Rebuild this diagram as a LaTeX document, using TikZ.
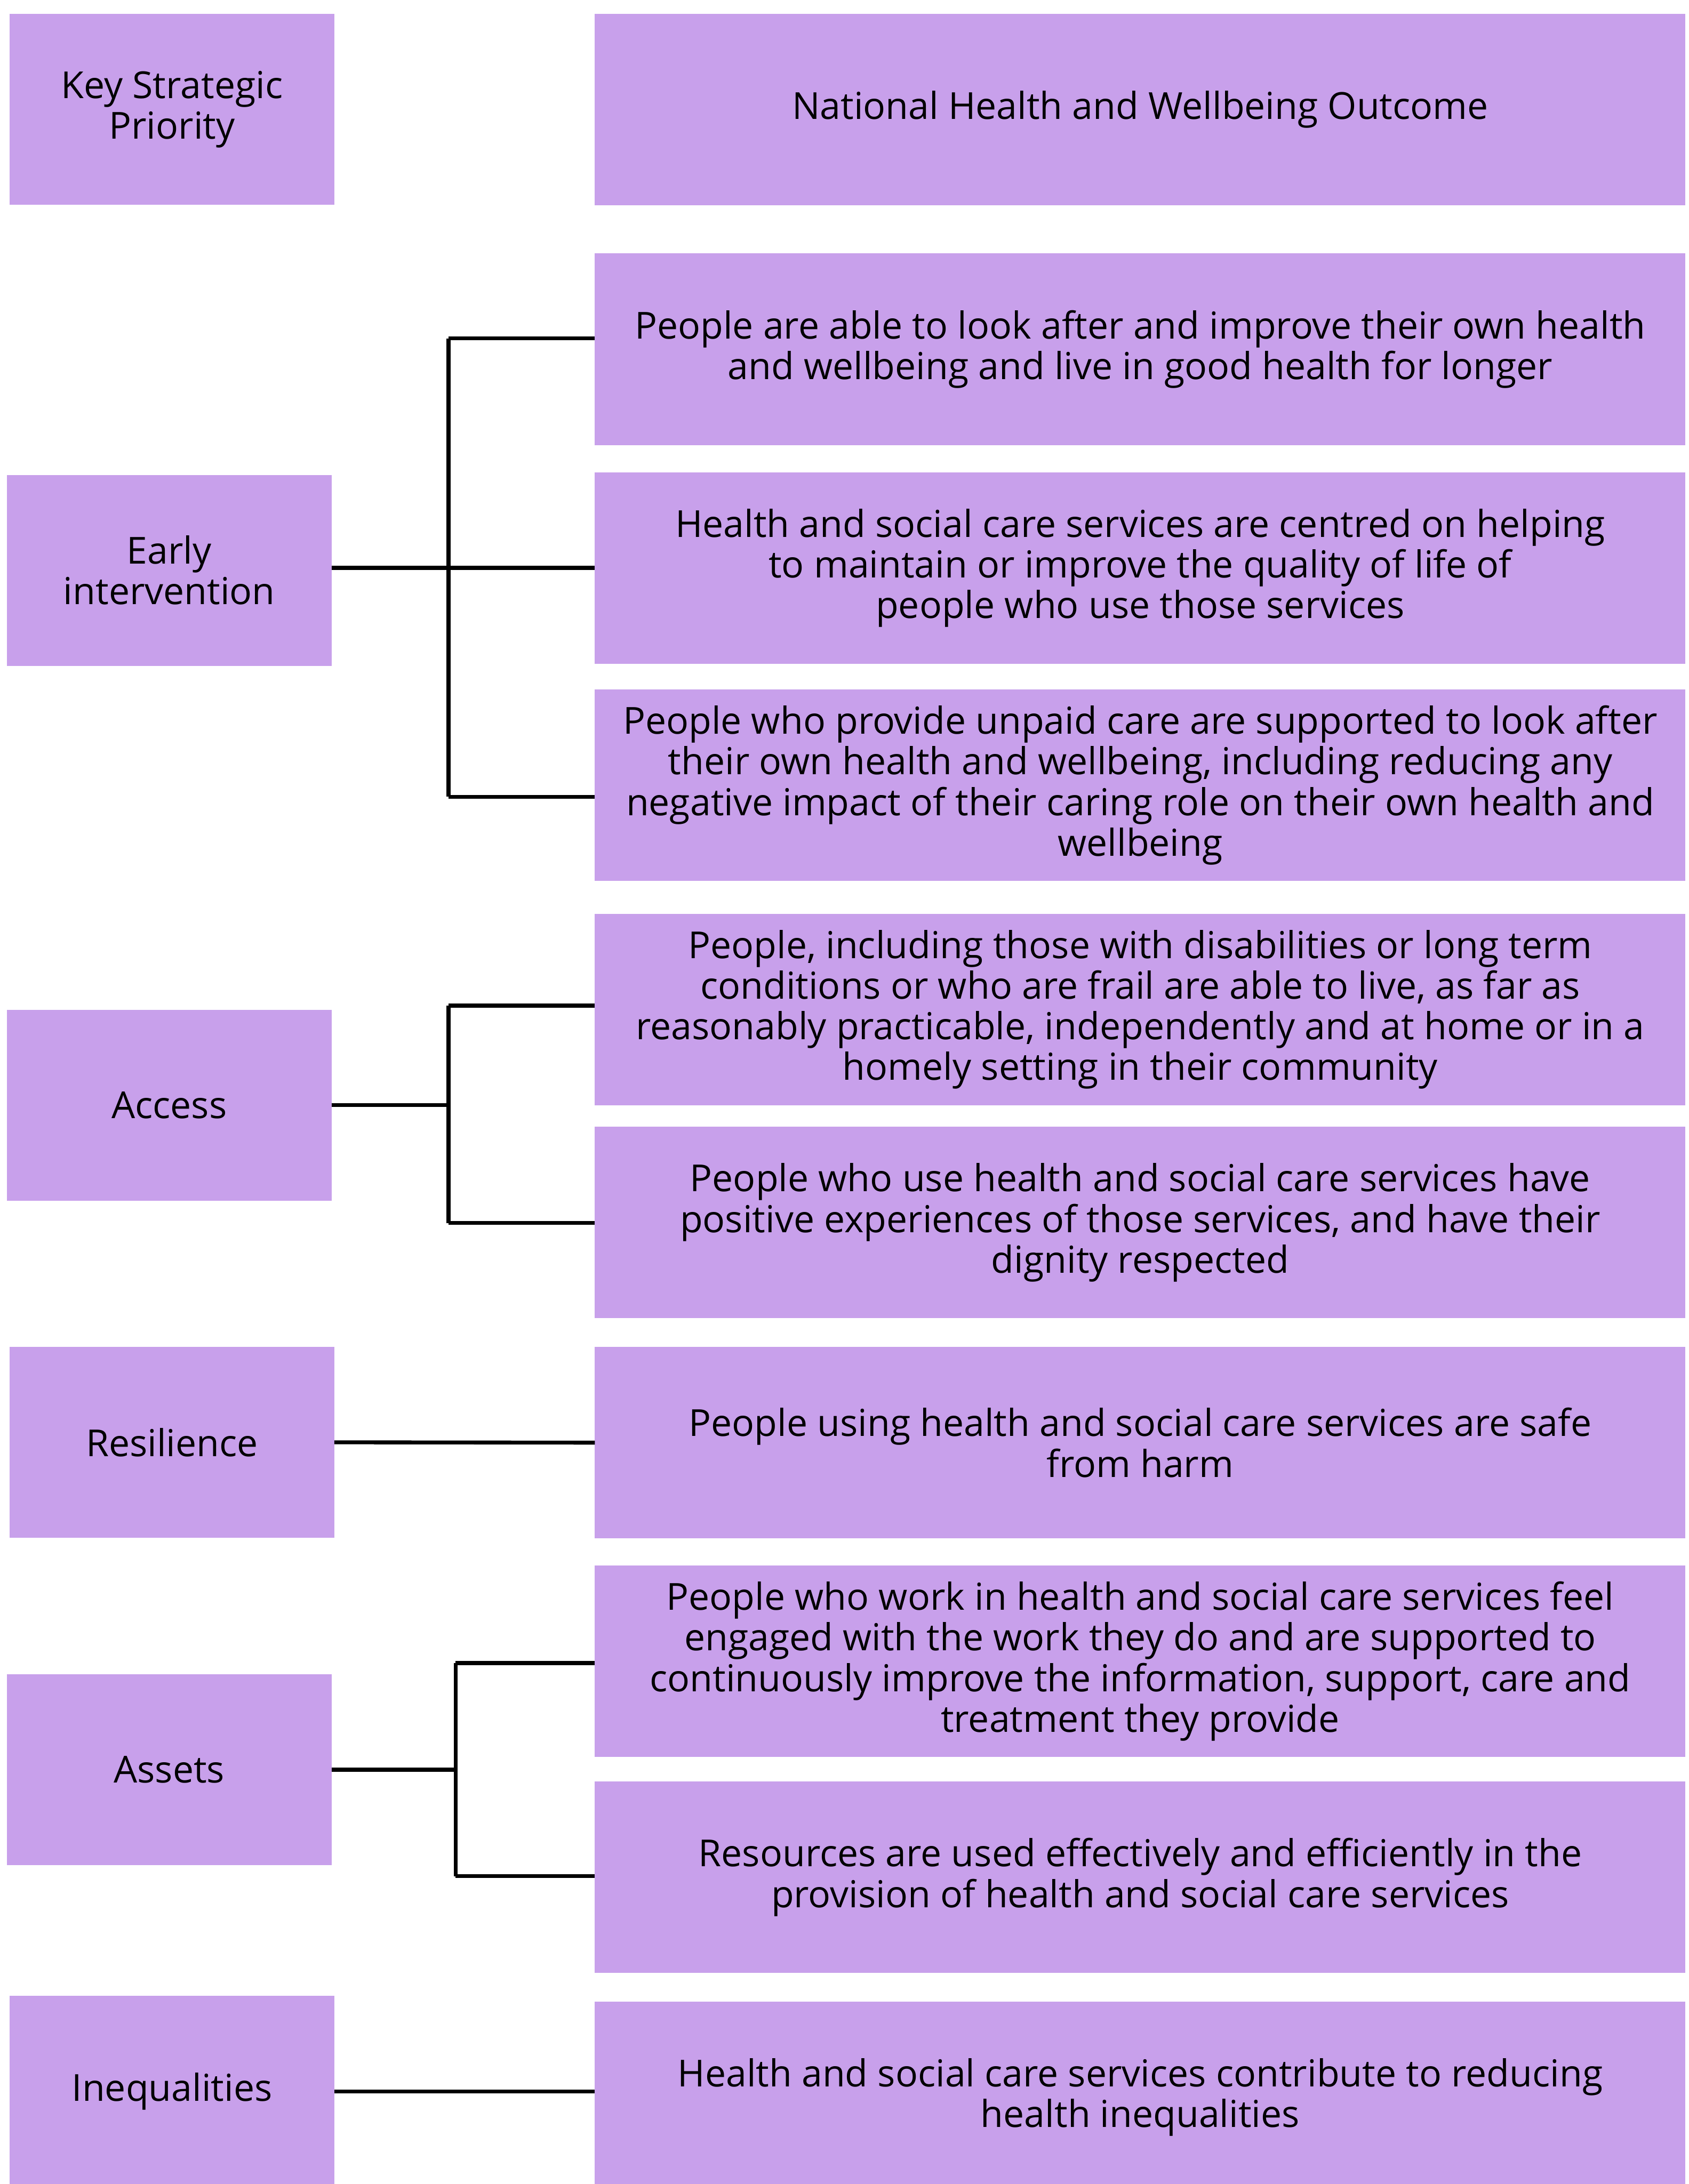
\documentclass[tikz,border=0pt]{standalone}
\usepackage{fontspec}
\setmainfont{Open Sans}
\usepackage{tikz}
\usetikzlibrary{positioning, calc}
\definecolor{lilac}{HTML}{C8A0EB}
\tikzstyle{priority} = [rectangle, fill=lilac, anchor=north west, inner sep=0pt, outer sep=0pt, minimum width=4.66cm, minimum height=2.74cm, align=center]
\tikzstyle{outcome} = [rectangle, fill=lilac, anchor=north west, inner sep=0pt, outer sep=0pt, minimum width=15.66cm, minimum height=2.75cm, align=center]
\tikzstyle{link} = [line width=1.6pt, black]

\begin{document}
\begin{tikzpicture}[x=0.02cm, y=-0.02cm, font=\fontsize{15.2}{16.6}\selectfont]
    \fill[white] (0,0) rectangle (1212,1568);
    \useasboundingbox (0,0) rectangle (1212,1568);

    % left column
    \node (ksp) [priority] at (7,10) {Key Strategic\\Priority};
    \node (ei) [priority] at (5,341) {Early\\intervention};
    \node (ac) [priority] at (5,725) {Access};
    \node (rs) [priority] at (7,967) {Resilience};
    \node (as) [priority] at (5,1202) {Assets};
    \node (iq) [priority] at (7,1433) {Inequalities};

    % right column
    \node (nho) [outcome] at (427,10) {National Health and Wellbeing Outcome};
    \node (o1) [outcome] at (427,182) {People are able to look after and improve their own health\\and wellbeing and live in good health for longer};
    \node (o2) [outcome] at (427,339) {Health and social care services are centred on helping\\to maintain or improve the quality of life of\\people who use those services};
    \node (o3) [outcome] at (427,495) {People who provide unpaid care are supported to look after\\their own health and wellbeing, including reducing any\\negative impact of their caring role on their own health and\\wellbeing};
    \node (o4) [outcome] at (427,656) {People, including those with disabilities or long term\\conditions or who are frail are able to live, as far as\\reasonably practicable, independently and at home or in a\\homely setting in their community};
    \node (o5) [outcome] at (427,809) {People who use health and social care services have\\positive experiences of those services, and have their\\dignity respected};
    \node (o6) [outcome] at (427,967) {People using health and social care services are safe\\from harm};
    \node (o7) [outcome] at (427,1124) {People who work in health and social care services feel\\engaged with the work they do and are supported to\\continuously improve the information, support, care and\\treatment they provide};
    \node (o8) [outcome] at (427,1279) {Resources are used effectively and efficiently in the\\provision of health and social care services};
    \node (o9) [outcome] at (427,1437) {Health and social care services contribute to reducing\\health inequalities};

    % early intervention
    \coordinate (eitop) at (322,243);
    \coordinate (eibot) at (322,572);
    \draw[link] (ei.east |- o2.west) -- (o2.west);
    \draw[link] (eitop) -- (eibot);
    \draw[link] (eitop) -- (eitop -| o1.west);
    \draw[link] (eibot) -- (eibot -| o3.west);

    % access
    \coordinate (actop) at (322,722);
    \coordinate (acbot) at (322,878);
    \draw[link] (ac.east) -- (ac.east -| actop);
    \draw[link] (actop) -- (acbot);
    \draw[link] (actop) -- (actop -| o4.west);
    \draw[link] (acbot) -- (acbot -| o5.west);

    % resilience
    \draw[link] (rs.east) -- (o6.west);

    % assets
    \coordinate (astop) at (327,1194);
    \coordinate (asbot) at (327,1347);
    \draw[link] (as.east) -- (as.east -| astop);
    \draw[link] (astop) -- (asbot);
    \draw[link] (astop) -- (astop -| o7.west);
    \draw[link] (asbot) -- (asbot -| o8.west);

    % inequalities
    \draw[link] (iq.east) -- (iq.east -| o9.west);
\end{tikzpicture}
\end{document}
